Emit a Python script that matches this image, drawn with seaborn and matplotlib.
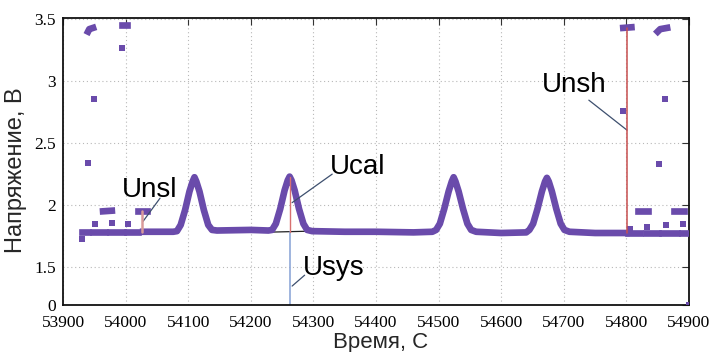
import numpy as np
import pandas as pd
import matplotlib
matplotlib.use("Agg")
import matplotlib.pyplot as plt
import seaborn as sns

# ---- measured signal: continuous trace (time, s / voltage, V) ----
trace_t = [54028, 54060, 54076, 54082, 54088, 54095, 54102, 54107, 54110, 54113,
           54118, 54125, 54132, 54138, 54146, 54200, 54228, 54234, 54240, 54247,
           54254, 54259, 54262, 54265, 54270, 54277, 54284, 54290, 54298, 54350,
           54400, 54460, 54490, 54496, 54502, 54509, 54516, 54521, 54524, 54527,
           54532, 54539, 54546, 54552, 54560, 54600, 54640, 54645, 54651, 54658,
           54665, 54670, 54673, 54676, 54681, 54688, 54695, 54701, 54709, 54750,
           54800]
trace_v = [1.785, 1.785, 1.785, 1.79, 1.84, 1.96, 2.11, 2.19, 2.225, 2.19,
           2.11, 1.96, 1.84, 1.80, 1.795, 1.80, 1.795, 1.80, 1.85, 1.97,
           2.12, 2.20, 2.23, 2.20, 2.12, 1.97, 1.85, 1.80, 1.79, 1.785,
           1.785, 1.78, 1.785, 1.80, 1.85, 1.97, 2.11, 2.19, 2.225, 2.19,
           2.11, 1.97, 1.85, 1.80, 1.785, 1.775, 1.78, 1.80, 1.85, 1.97,
           2.11, 2.19, 2.22, 2.19, 2.11, 1.97, 1.85, 1.80, 1.785, 1.775,
           1.775]

# ---- switching intervals: short runs of samples ----
runs = [
    ([53940, 53942, 53948], [3.40, 3.42, 3.43]),
    ([53994, 54003], [3.45, 3.45]),
    ([53964, 53978], [1.95, 1.955]),
    ([54020, 54034], [1.955, 1.955]),
    ([53930, 53940], [1.785, 1.785]),
    ([53948, 53967], [1.785, 1.785]),
    ([53975, 53996], [1.785, 1.785]),
    ([54002, 54020], [1.785, 1.785]),
    ([54795, 54808], [3.43, 3.435]),
    ([54850, 54854, 54865], [3.40, 3.42, 3.43]),
    ([54818, 54834], [1.955, 1.955]),
    ([54876, 54892], [1.955, 1.955]),
    ([54803, 54822], [1.775, 1.775]),
    ([54831, 54850], [1.775, 1.775]),
    ([54857, 54881], [1.775, 1.775]),
    ([54889, 54902], [1.775, 1.775]),
]

# ---- isolated samples ----
pts_t = [53940, 53950, 53994, 53930, 53951, 53978, 54004,
         54795, 54862, 54852, 54806, 54833, 54863, 54890, 54900]
pts_v = [2.34, 2.855, 3.27, 1.73, 1.85, 1.855, 1.85,
         2.76, 2.855, 2.33, 1.81, 1.82, 1.84, 1.85, 0.0]

# ---- marked quantities ----
unsl_t, unsl_v = 54026, (1.785, 1.955)
ucal_t, ucal_v = 54262, (1.785, 2.23)
usys_v = (0.0, 1.785)
unsh_t, unsh_v = 54801, (1.775, 3.43)
base_t, base_v = [54230, 54296], [1.782, 1.79]

x_ticks = list(range(53900, 55000, 100))
y_ticks = [0, 1.5, 2, 2.5, 3, 3.5]
y_tick_labels = ["0", "1.5", "2", "2.5", "3", "3.5"]

PURPLE = "#6a4bab"

sns.set_theme(style="white")
plt.rcParams["font.family"] = ["Liberation Sans", "DejaVu Sans"]

fig = plt.figure(figsize=(7.12, 3.52), dpi=100)
ax = fig.add_axes([0.0885, 0.1335, 0.8792, 0.8154])

# compressed range below 1.5 V
K = 0.204
def fwd(y):
    y = np.asarray(y, dtype=float)
    return np.where(y >= 1.5, y, 1.5 - (1.5 - y) * K)
def inv(t):
    t = np.asarray(t, dtype=float)
    return np.where(t >= 1.5, t, 1.5 - (1.5 - t) / K)
ax.set_yscale("function", functions=(fwd, inv))

# data frames for seaborn
rows = [(t, v, 0) for t, v in zip(trace_t, trace_v)]
for i, (ts, vs) in enumerate(runs, start=1):
    rows += [(t, v, i) for t, v in zip(ts, vs)]
seg_df = pd.DataFrame(rows, columns=["t", "v", "seg"])
pts_df = pd.DataFrame({"t": pts_t, "v": pts_v})

# reference lines under the trace
ax.plot(base_t, base_v, color="#222222", lw=0.9, zorder=2)
ax.plot([ucal_t, ucal_t], list(usys_v), color="#8fa8d8", lw=1.2, zorder=2)

sns.lineplot(data=seg_df, x="t", y="v", units="seg", estimator=None, sort=False,
             color=PURPLE, lw=4.8, ax=ax, legend=False, zorder=3,
             solid_capstyle="projecting", solid_joinstyle="round")
sns.scatterplot(data=pts_df, x="t", y="v", marker="s", s=18, color=PURPLE,
                edgecolor="none", ax=ax, legend=False, zorder=3)

# quantities drawn over the trace
ax.plot([unsl_t, unsl_t], list(unsl_v), color="#d99a9a", lw=1.8, zorder=4)
ax.plot([ucal_t, ucal_t], list(ucal_v), color="#d87070", lw=1.0, zorder=4)
ax.plot([unsh_t, unsh_t], list(unsh_v), color="#c85050", lw=1.1, zorder=4)

# labels with leader lines
lead = dict(arrowstyle="-", color="#3d4f6e", lw=0.9, shrinkA=0, shrinkB=0)
tkw = dict(fontsize=20, color="black", va="baseline", ha="left")
ax.text(53994, 2.065, "Unsl", **tkw)
ax.annotate("", xy=(54028, 1.87), xytext=(54055, 2.056), arrowprops=lead)
ax.text(54326, 2.25, "Ucal", **tkw)
ax.annotate("", xy=(54266, 2.02), xytext=(54330, 2.25), arrowprops=lead)
ax.text(54283, 1.18, "Usys", **tkw)
ax.annotate("", xy=(54266, 0.75), xytext=(54286, 1.18), arrowprops=lead)
ax.text(54665, 2.91, "Unsh", **tkw)
ax.annotate("", xy=(54801, 2.605), xytext=(54740, 2.847), arrowprops=lead)

ax.set_xlim(53900, 54900)
ax.set_ylim(0, 3.51)
ax.set_xticks(x_ticks)
ax.set_xticklabels([str(v) for v in x_ticks])
ax.set_yticks(y_ticks)
ax.set_yticklabels(y_tick_labels)
for lab in ax.get_xticklabels() + ax.get_yticklabels():
    lab.set_fontfamily("Liberation Serif")
    lab.set_fontsize(12.5)

ax.grid(True, which="major", color="#b8b8b8", lw=0.8, linestyle=(0, (1, 2.5)))
ax.tick_params(direction="in", length=5, width=0.8, top=True, right=True,
               colors="#333333", labelcolor="black")
ax.tick_params(axis="x", pad=7)
ax.tick_params(axis="y", pad=5)
for s in ax.spines.values():
    s.set_color("#111111")
    s.set_linewidth(1.3)

ax.set_xlabel("Время, С", fontsize=16)
ax.set_ylabel("Напряжение, В", fontsize=17)
ax.xaxis.set_label_coords(0.508, -0.095)
ax.yaxis.set_label_coords(-0.058, 0.47)

fig.savefig("out.png", dpi=100)
